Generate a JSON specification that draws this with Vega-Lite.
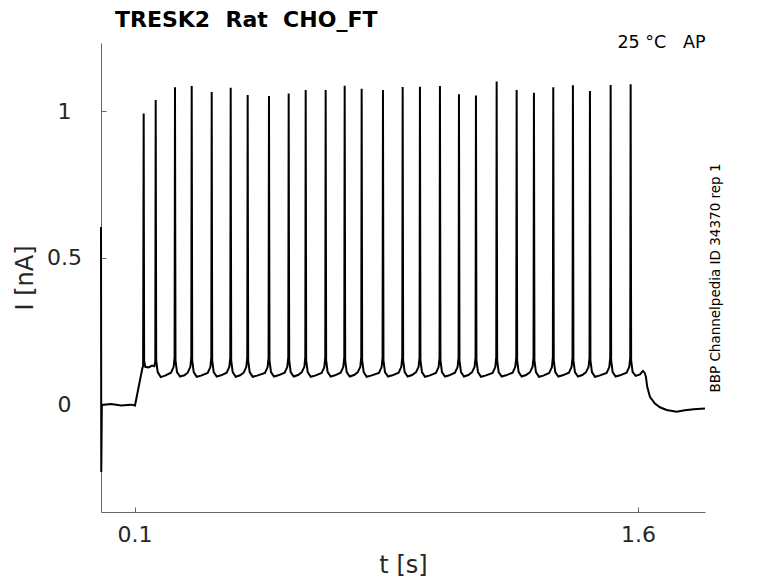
{
  "$schema": "https://vega.github.io/schema/vega-lite/v6.json",
  "width": 604,
  "height": 469,
  "autosize": {"type": "none"},
  "padding": {"left": 101, "top": 43, "right": 73, "bottom": 71},
  "background": "white",
  "title": {
    "text": "TRESK2\u00a0\u00a0Rat\u00a0\u00a0CHO_FT",
    "anchor": "start",
    "frame": "group",
    "dx": 14,
    "offset": -16,
    "baseline": "alphabetic",
    "font": "DejaVu Sans",
    "fontSize": 22,
    "fontWeight": "bold",
    "color": "black"
  },
  "config": {
    "view": {"stroke": null},
    "font": "DejaVu Sans",
    "axis": {
      "grid": false,
      "domainColor": "#666666",
      "tickColor": "#666666",
      "tickSize": -5,
      "labelFont": "DejaVu Sans",
      "labelFontSize": 22,
      "labelColor": "#262626",
      "titleFont": "DejaVu Sans",
      "titleFontSize": 24,
      "titleFontWeight": "normal",
      "titleColor": "#262626"
    }
  },
  "data": {
    "values": [
      {"t": 0, "I": 0.605}, {"t": 0.0008, "I": -0.231}, {"t": 0.0025, "I": -0.002},
      {"t": 0.03, "I": 0.001}, {"t": 0.06, "I": -0.004}, {"t": 0.09, "I": -0.001},
      {"t": 0.1013, "I": -0.004}, {"t": 0.1235, "I": 0.125}, {"t": 0.1255, "I": 0.13},
      {"t": 0.1272, "I": 0.992},
      {"t": 0.1285, "I": 0.15}, {"t": 0.132, "I": 0.128}, {"t": 0.142, "I": 0.126},
      {"t": 0.152, "I": 0.132}, {"t": 0.159, "I": 0.13}, {"t": 0.1618, "I": 0.145},
      {"t": 0.163, "I": 1.038},
      {"t": 0.1645, "I": 0.15}, {"t": 0.169, "I": 0.11}, {"t": 0.178, "I": 0.093}, {"t": 0.191, "I": 0.098},
      {"t": 0.2085, "I": 0.108}, {"t": 0.2165, "I": 0.128}, {"t": 0.2193, "I": 0.16}, {"t": 0.2205, "I": 1.081},
      {"t": 0.222, "I": 0.15}, {"t": 0.2265, "I": 0.11}, {"t": 0.2355, "I": 0.095}, {"t": 0.2485, "I": 0.099},
      {"t": 0.2583, "I": 0.108}, {"t": 0.2663, "I": 0.128}, {"t": 0.2691, "I": 0.16}, {"t": 0.2703, "I": 1.085},
      {"t": 0.2718, "I": 0.15}, {"t": 0.2763, "I": 0.11}, {"t": 0.2853, "I": 0.094}, {"t": 0.2983, "I": 0.098},
      {"t": 0.3179, "I": 0.107}, {"t": 0.3259, "I": 0.127}, {"t": 0.3287, "I": 0.16}, {"t": 0.3299, "I": 1.065},
      {"t": 0.3314, "I": 0.15}, {"t": 0.3359, "I": 0.11}, {"t": 0.3449, "I": 0.095}, {"t": 0.3579, "I": 0.099},
      {"t": 0.3745, "I": 0.108}, {"t": 0.3825, "I": 0.128}, {"t": 0.3853, "I": 0.16}, {"t": 0.3865, "I": 1.079},
      {"t": 0.388, "I": 0.15}, {"t": 0.3925, "I": 0.11}, {"t": 0.4015, "I": 0.094}, {"t": 0.4145, "I": 0.099},
      {"t": 0.4251, "I": 0.108}, {"t": 0.4331, "I": 0.128}, {"t": 0.4359, "I": 0.16}, {"t": 0.4371, "I": 1.055},
      {"t": 0.4386, "I": 0.15}, {"t": 0.4431, "I": 0.11}, {"t": 0.4521, "I": 0.094}, {"t": 0.4651, "I": 0.098},
      {"t": 0.4886, "I": 0.107}, {"t": 0.4966, "I": 0.127}, {"t": 0.4994, "I": 0.16}, {"t": 0.5006, "I": 1.051},
      {"t": 0.5021, "I": 0.15}, {"t": 0.5066, "I": 0.11}, {"t": 0.5156, "I": 0.095}, {"t": 0.5286, "I": 0.099},
      {"t": 0.5473, "I": 0.108}, {"t": 0.5553, "I": 0.128}, {"t": 0.5581, "I": 0.16}, {"t": 0.5593, "I": 1.06},
      {"t": 0.5608, "I": 0.15}, {"t": 0.5653, "I": 0.11}, {"t": 0.5743, "I": 0.095}, {"t": 0.5873, "I": 0.1},
      {"t": 0.598, "I": 0.109}, {"t": 0.606, "I": 0.128}, {"t": 0.6088, "I": 0.16}, {"t": 0.61, "I": 1.072},
      {"t": 0.6115, "I": 0.15}, {"t": 0.616, "I": 0.11}, {"t": 0.625, "I": 0.094}, {"t": 0.638, "I": 0.098},
      {"t": 0.6575, "I": 0.107}, {"t": 0.6655, "I": 0.127}, {"t": 0.6683, "I": 0.16}, {"t": 0.6695, "I": 1.072},
      {"t": 0.671, "I": 0.15}, {"t": 0.6755, "I": 0.11}, {"t": 0.6845, "I": 0.095}, {"t": 0.6975, "I": 0.099},
      {"t": 0.7142, "I": 0.108}, {"t": 0.7222, "I": 0.128}, {"t": 0.725, "I": 0.16}, {"t": 0.7262, "I": 1.086},
      {"t": 0.7277, "I": 0.15}, {"t": 0.7322, "I": 0.11}, {"t": 0.7412, "I": 0.095}, {"t": 0.7542, "I": 0.1},
      {"t": 0.7648, "I": 0.109}, {"t": 0.7728, "I": 0.128}, {"t": 0.7756, "I": 0.16}, {"t": 0.7768, "I": 1.076},
      {"t": 0.7783, "I": 0.15}, {"t": 0.7828, "I": 0.11}, {"t": 0.7918, "I": 0.094}, {"t": 0.8048, "I": 0.098},
      {"t": 0.8283, "I": 0.107}, {"t": 0.8363, "I": 0.127}, {"t": 0.8391, "I": 0.16}, {"t": 0.8403, "I": 1.072},
      {"t": 0.8418, "I": 0.15}, {"t": 0.8463, "I": 0.11}, {"t": 0.8553, "I": 0.095}, {"t": 0.8683, "I": 0.099},
      {"t": 0.887, "I": 0.108}, {"t": 0.895, "I": 0.128}, {"t": 0.8978, "I": 0.16}, {"t": 0.899, "I": 1.082},
      {"t": 0.9005, "I": 0.15}, {"t": 0.905, "I": 0.11}, {"t": 0.914, "I": 0.095}, {"t": 0.927, "I": 0.1},
      {"t": 0.9385, "I": 0.109}, {"t": 0.9465, "I": 0.128}, {"t": 0.9493, "I": 0.16}, {"t": 0.9505, "I": 1.083},
      {"t": 0.952, "I": 0.15}, {"t": 0.9565, "I": 0.11}, {"t": 0.9655, "I": 0.094}, {"t": 0.9785, "I": 0.098},
      {"t": 0.9981, "I": 0.107}, {"t": 1.0061, "I": 0.127}, {"t": 1.0089, "I": 0.16}, {"t": 1.0101, "I": 1.085},
      {"t": 1.0116, "I": 0.15}, {"t": 1.0161, "I": 0.11}, {"t": 1.0251, "I": 0.095}, {"t": 1.0381, "I": 0.099},
      {"t": 1.0548, "I": 0.108}, {"t": 1.0628, "I": 0.128}, {"t": 1.0656, "I": 0.16}, {"t": 1.0668, "I": 1.057},
      {"t": 1.0683, "I": 0.15}, {"t": 1.0728, "I": 0.11}, {"t": 1.0818, "I": 0.095}, {"t": 1.0948, "I": 0.1},
      {"t": 1.1054, "I": 0.109}, {"t": 1.1134, "I": 0.128}, {"t": 1.1162, "I": 0.16}, {"t": 1.1174, "I": 1.053},
      {"t": 1.1189, "I": 0.15}, {"t": 1.1234, "I": 0.11}, {"t": 1.1324, "I": 0.094}, {"t": 1.1454, "I": 0.098},
      {"t": 1.1671, "I": 0.107}, {"t": 1.1751, "I": 0.127}, {"t": 1.1779, "I": 0.16}, {"t": 1.1791, "I": 1.101},
      {"t": 1.1806, "I": 0.15}, {"t": 1.1851, "I": 0.11}, {"t": 1.1941, "I": 0.095}, {"t": 1.2071, "I": 0.099},
      {"t": 1.2267, "I": 0.108}, {"t": 1.2347, "I": 0.128}, {"t": 1.2375, "I": 0.16}, {"t": 1.2387, "I": 1.072},
      {"t": 1.2402, "I": 0.15}, {"t": 1.2447, "I": 0.11}, {"t": 1.2537, "I": 0.095}, {"t": 1.2667, "I": 0.1},
      {"t": 1.2782, "I": 0.109}, {"t": 1.2862, "I": 0.128}, {"t": 1.289, "I": 0.16}, {"t": 1.2902, "I": 1.062},
      {"t": 1.2917, "I": 0.15}, {"t": 1.2962, "I": 0.11}, {"t": 1.3052, "I": 0.094}, {"t": 1.3182, "I": 0.098},
      {"t": 1.3358, "I": 0.107}, {"t": 1.3438, "I": 0.127}, {"t": 1.3466, "I": 0.16}, {"t": 1.3478, "I": 1.081},
      {"t": 1.3493, "I": 0.15}, {"t": 1.3538, "I": 0.11}, {"t": 1.3628, "I": 0.095}, {"t": 1.3758, "I": 0.099},
      {"t": 1.3944, "I": 0.108}, {"t": 1.4024, "I": 0.128}, {"t": 1.4052, "I": 0.16}, {"t": 1.4064, "I": 1.088},
      {"t": 1.4079, "I": 0.15}, {"t": 1.4124, "I": 0.11}, {"t": 1.4214, "I": 0.095}, {"t": 1.4344, "I": 0.1},
      {"t": 1.4451, "I": 0.109}, {"t": 1.4531, "I": 0.128}, {"t": 1.4559, "I": 0.16}, {"t": 1.4571, "I": 1.068},
      {"t": 1.4586, "I": 0.15}, {"t": 1.4631, "I": 0.11}, {"t": 1.4721, "I": 0.094}, {"t": 1.4851, "I": 0.098},
      {"t": 1.5068, "I": 0.107}, {"t": 1.5148, "I": 0.127}, {"t": 1.5176, "I": 0.16}, {"t": 1.5188, "I": 1.089},
      {"t": 1.5203, "I": 0.15}, {"t": 1.5248, "I": 0.11}, {"t": 1.5338, "I": 0.095}, {"t": 1.5468, "I": 0.099},
      {"t": 1.5664, "I": 0.108}, {"t": 1.5744, "I": 0.128}, {"t": 1.5772, "I": 0.16}, {"t": 1.5784, "I": 1.091},
      {"t": 1.5799, "I": 0.15}, {"t": 1.5844, "I": 0.11}, {"t": 1.5934, "I": 0.097}, {"t": 1.6064, "I": 0.102},
      {"t": 1.615, "I": 0.114}, {"t": 1.62, "I": 0.108}, {"t": 1.6239, "I": 0.094}, {"t": 1.6278, "I": 0.06},
      {"t": 1.6359, "I": 0.026}, {"t": 1.6508, "I": 0.003}, {"t": 1.6657, "I": -0.01}, {"t": 1.6857, "I": -0.019},
      {"t": 1.7155, "I": -0.025}, {"t": 1.74, "I": -0.02}, {"t": 1.7664, "I": -0.017}, {"t": 1.8, "I": -0.014}
    ]
  },
  "layer": [
    {
      "mark": {"type": "line", "color": "black", "strokeWidth": 2},
      "encoding": {
        "x": {
          "field": "t",
          "type": "quantitative",
          "scale": {"domain": [0, 1.8], "nice": false, "zero": false},
          "axis": {
            "orient": "bottom",
            "values": [0.1, 1.6],
            "format": ".2~g",
            "title": "t [s]",
            "labelPadding": 17,
            "titlePadding": 8
          }
        },
        "y": {
          "field": "I",
          "type": "quantitative",
          "scale": {"domain": [-0.367, 1.232], "nice": false, "zero": false},
          "axis": {
            "orient": "left",
            "values": [0, 0.5, 1],
            "format": ".2~g",
            "title": "I [nA]",
            "labelAlign": "center",
            "labelPadding": 42,
            "titlePadding": 9
          }
        }
      }
    },
    {
      "mark": {"type": "point", "opacity": 0},
      "encoding": {
        "x": {
          "field": "t",
          "type": "quantitative",
          "axis": {
            "orient": "top",
            "title": "25 °C\u00a0\u00a0\u00a0AP",
            "titleAnchor": "end",
            "titleFontSize": 17.5,
            "titleColor": "black",
            "titleBaseline": "alphabetic",
            "titlePadding": -4,
            "labels": false,
            "ticks": false,
            "domain": false
          }
        },
        "y": {
          "field": "I",
          "type": "quantitative",
          "axis": {
            "orient": "right",
            "title": "BBP Channelpedia ID 34370 rep 1",
            "titleAngle": 270,
            "titleFontSize": 13.5,
            "titleColor": "black",
            "titlePadding": 17,
            "labels": false,
            "ticks": false,
            "domain": false
          }
        }
      }
    }
  ],
  "resolve": {"axis": {"x": "independent", "y": "independent"}}
}
